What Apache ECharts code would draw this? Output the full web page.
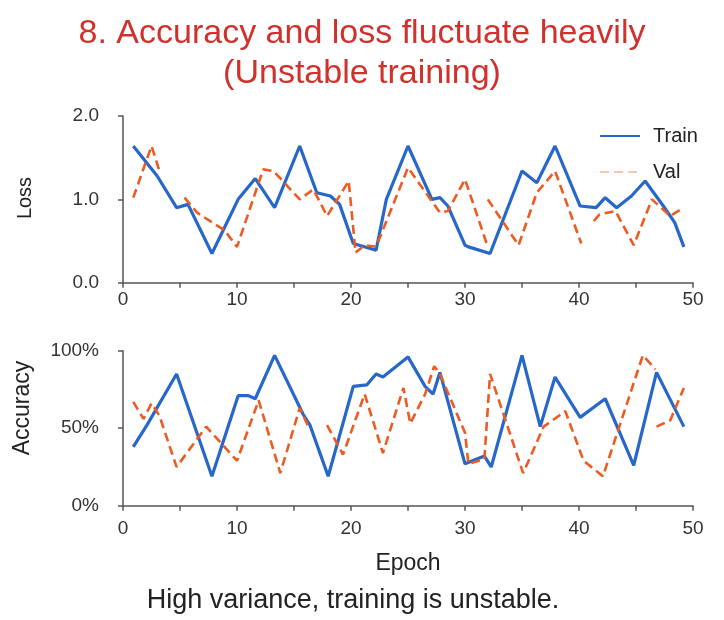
<!DOCTYPE html>
<html>
<head>
<meta charset="utf-8">
<script src="https://cdn.jsdelivr.net/npm/echarts@6/dist/echarts.min.js"></script>
<style>
html,body{margin:0;padding:0;background:#fff;}
#chart{width:724px;height:620px;}
</style>
</head>
<body>
<div id="chart"></div>
<script>
// ---- data: [epoch, value] ----
var trainLoss = [[0.9,1.64],[3,1.28],[4.7,0.90],[5.7,0.94],[7.8,0.35],[10.1,1.0],[11.6,1.25],[13.3,0.90],[15.5,1.64],[17,1.08],[18.2,1.04],[19,0.94],[20.2,0.47],[22.2,0.39],[23.1,1.0],[25,1.64],[27.1,1.0],[27.8,1.02],[28.5,0.92],[30,0.45],[30.3,0.43],[32.2,0.35],[35,1.34],[36.3,1.20],[37.9,1.64],[40.1,0.92],[41.5,0.90],[42.3,1.02],[43.3,0.90],[44.6,1.04],[45.8,1.22],[47.4,0.92],[48.4,0.72],[49.2,0.43]];
var valLoss = [[0.9,1.02],[2.5,1.64],[3.2,1.34],[4.3,null],[5.4,1.02],[6.5,0.84],[8.9,0.63],[10,0.43],[12.3,1.36],[13.2,1.34],[15.5,1.0],[16.7,1.12],[17.9,0.80],[19.8,1.22],[20.4,0.36],[21.2,0.45],[22.2,0.43],[25,1.38],[27.8,0.84],[28.5,0.86],[30,1.24],[31.9,0.47],[31.95,null],[32,1.0],[34.7,0.45],[36.3,1.08],[37.9,1.34],[40.2,0.47],[40.8,null],[41.3,0.74],[41.8,0.82],[43.2,0.86],[44.8,0.45],[46.4,1.0],[48,0.80],[49.2,0.90]];
var trainAcc = [[0.9,38],[2.1,52],[4.7,85],[7.8,19],[10.1,71],[11,71],[11.6,69],[13.3,97],[15.8,59],[16.4,52],[18,19],[20.2,77],[21.4,78],[22.2,85],[22.8,83],[25,96],[26.5,77],[27.2,72],[27.8,86],[30,27],[31.7,32],[32.3,25],[35,97],[36.6,51],[37.9,83],[40.1,57],[42.3,69],[44.8,26],[46.8,86],[49.2,51]];
var valAcc = [[0.9,67],[1.8,56],[2.5,66],[3.2,58],[4.7,25],[7.3,51],[10,29],[11.9,68],[13.8,21],[15.5,63],[16.2,52],[17,null],[17.9,52],[19.3,33],[21.2,72],[22.8,34],[24.6,76],[25.2,53],[26.5,72],[27.3,90],[27.8,85],[30,47],[30.3,27],[31.7,30],[32.2,85],[35.1,21],[36.9,51],[38.8,61],[40.4,29],[42.1,19],[45.6,97],[46.7,88],[46.75,null],[46.8,51],[48,55],[49.2,76]];
var lossTicks = [0, 1, 2];
var accTicks = [0, 50, 100];
var seriesNames = ['Train', 'Val'];
var titleLines = ['8. Accuracy and loss fluctuate heavily', '(Unstable training)'];
var caption = 'High variance, training is unstable.';

var BLUE = '#2667c9', ORANGE = '#ee5b22', RED = '#d0312d', AXIS = '#555', TXT = '#222';
var FONT = 'Liberation Sans, Arial, Helvetica, sans-serif';

function xAxisCfg(gridIndex, labelMargin, withName) {
  var cfg = {
    type: 'value', gridIndex: gridIndex, min: 0, max: 50, interval: 5,
    axisLine: {show: true, lineStyle: {color: AXIS, width: 1.5}},
    axisTick: {show: true, inside: false, length: 5, lineStyle: {color: AXIS, width: 1.5}},
    splitLine: {show: false},
    axisLabel: {margin: labelMargin, fontSize: 19, color: '#333', fontFamily: FONT,
      formatter: function (v) { return v % 10 === 0 ? String(v) : ''; }}
  };
  if (withName) {
    cfg.name = 'Epoch';
    cfg.nameLocation = 'middle';
    cfg.nameGap = 46;
    cfg.nameTextStyle = {fontSize: 23, color: TXT, fontFamily: FONT};
  }
  return cfg;
}
function yAxisCfg(gridIndex, max, interval, fmt) {
  return {
    type: 'value', gridIndex: gridIndex, min: 0, max: max, interval: interval,
    axisLine: {show: true, lineStyle: {color: AXIS, width: 1.5}},
    axisTick: {show: true, length: 5, lineStyle: {color: AXIS, width: 1.5}},
    splitLine: {show: false},
    axisLabel: {margin: 24, fontSize: 19, color: '#333', fontFamily: FONT, formatter: fmt}
  };
}
function lineSeries(name, data, xi, dashed) {
  return {
    name: name, type: 'line', xAxisIndex: xi, yAxisIndex: xi, data: data,
    symbol: 'none', showSymbol: false, connectNulls: false, smooth: false,
    lineStyle: dashed ? {color: ORANGE, width: 2.6, type: [9, 5]} : {color: BLUE, width: 3.2},
    itemStyle: {color: dashed ? ORANGE : BLUE},
    z: dashed ? 3 : 2
  };
}

var chart = echarts.init(document.getElementById('chart'), null, {renderer: 'canvas'});
chart.setOption({
  backgroundColor: '#fff',
  animation: false,
  title: [
    {text: titleLines[0], left: 'center', top: 12, textStyle: {fontSize: 34, color: RED, fontWeight: 'normal', fontFamily: FONT}},
    {text: titleLines[1], left: 'center', top: 52, textStyle: {fontSize: 34, color: RED, fontWeight: 'normal', fontFamily: FONT}}
  ],
  legend: {
    data: [
      {name: seriesNames[0]},
      {name: seriesNames[1], lineStyle: {opacity: 0.35}}
    ],
    orient: 'vertical', left: 594, top: 121, itemWidth: 40, itemHeight: 14, itemGap: 16,
    itemStyle: {opacity: 0},
    textStyle: {fontSize: 20, color: TXT, fontFamily: FONT, padding: [0, 0, 0, 8]}
  },
  grid: [
    {left: 123, right: 31, top: 116, height: 166.7},
    {left: 123, right: 31, top: 350.7, height: 155}
  ],
  xAxis: [xAxisCfg(0, 8, false), xAxisCfg(1, 14, true)],
  yAxis: [
    yAxisCfg(0, lossTicks[2], lossTicks[1] - lossTicks[0], function (v) { return v.toFixed(1); }),
    yAxisCfg(1, accTicks[2], accTicks[1] - accTicks[0], function (v) { return v + '%'; })
  ],
  graphic: [
    {type: 'text', x: 25, y: 198, rotation: Math.PI / 2, style: {text: 'Loss', fontSize: 20, fill: TXT, fontFamily: FONT, textAlign: 'center', textVerticalAlign: 'middle'}},
    {type: 'text', x: 23, y: 408, rotation: Math.PI / 2, style: {text: 'Accuracy', fontSize: 23, fill: TXT, fontFamily: FONT, textAlign: 'center', textVerticalAlign: 'middle'}},
    {type: 'text', x: 353, y: 601, style: {text: caption, fontSize: 27, fill: TXT, fontFamily: FONT, textAlign: 'center', textVerticalAlign: 'middle'}}
  ],
  series: [
    lineSeries(seriesNames[0], trainLoss, 0, false),
    lineSeries(seriesNames[1], valLoss, 0, true),
    lineSeries(seriesNames[0], trainAcc, 1, false),
    lineSeries(seriesNames[1], valAcc, 1, true)
  ]
});
</script>
</body>
</html>
